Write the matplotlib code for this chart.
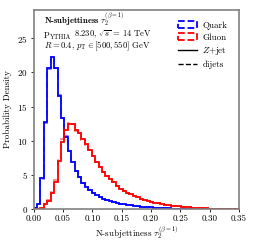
import numpy as np
import matplotlib.pyplot as plt
from matplotlib.patches import Patch
from matplotlib.lines import Line2D

plt.rcParams["font.family"] = "serif"
plt.rcParams["font.serif"] = ["cmr10", "DejaVu Serif"]
plt.rcParams["mathtext.fontset"] = "cm"
plt.rcParams["axes.formatter.use_mathtext"] = True
plt.rcParams["axes.unicode_minus"] = False

# 60 bins over [0, 0.35]
n_bins = 60
x_max = 0.35

quark_zjet = [0.1, 0.7, 4.5, 12.7, 20.6, 22.3, 20.6, 16.6, 13.3, 10.6,
              8.5, 6.9, 5.6, 4.7, 3.8, 3.3, 2.8, 2.4, 2.0, 1.75,
              1.5, 1.3, 1.15, 1.0, 0.88, 0.8, 0.7, 0.62, 0.55, 0.48,
              0.42, 0.37, 0.33, 0.29, 0.25, 0.21, 0.18, 0.15, 0.12, 0.1,
              0.08, 0.06, 0.05, 0.04, 0.03, 0.02, 0.02, 0.01, 0.01, 0.01,
              0.01, 0.01, 0.0, 0.0, 0.0, 0.0, 0.0, 0.0, 0.0, 0.0]
quark_dijet = [0.1, 0.7, 4.4, 12.6, 20.5, 22.3, 20.7, 16.7, 13.3, 10.7,
               8.5, 6.9, 5.6, 4.7, 3.8, 3.3, 2.8, 2.4, 2.0, 1.75,
               1.5, 1.3, 1.15, 1.0, 0.88, 0.8, 0.7, 0.62, 0.55, 0.48,
               0.42, 0.37, 0.33, 0.29, 0.25, 0.21, 0.18, 0.15, 0.12, 0.1,
               0.08, 0.06, 0.05, 0.04, 0.03, 0.02, 0.02, 0.01, 0.01, 0.01,
               0.01, 0.01, 0.0, 0.0, 0.0, 0.0, 0.0, 0.0, 0.0, 0.0]
gluon_zjet = [0.0, 0.05, 0.2, 0.7, 1.2, 2.4, 4.0, 7.1, 9.8, 11.6,
              12.4, 12.5, 11.6, 11.1, 10.2, 9.5, 8.6, 7.7, 6.9, 6.1,
              5.4, 4.9, 4.4, 3.9, 3.4, 3.0, 2.7, 2.4, 2.15, 1.9,
              1.75, 1.55, 1.35, 1.2, 1.05, 0.95, 0.85, 0.75, 0.67, 0.6,
              0.52, 0.45, 0.4, 0.35, 0.3, 0.26, 0.22, 0.18, 0.15, 0.12,
              0.1, 0.08, 0.06, 0.05, 0.04, 0.03, 0.02, 0.02, 0.01, 0.01]
gluon_dijet = [0.0, 0.05, 0.2, 0.7, 1.3, 2.5, 4.2, 7.4, 10.2, 11.9,
               12.6, 12.4, 11.5, 11.0, 10.1, 9.4, 8.6, 7.7, 6.9, 6.1,
               5.4, 4.9, 4.4, 3.9, 3.4, 3.0, 2.7, 2.4, 2.15, 1.9,
               1.75, 1.55, 1.35, 1.2, 1.05, 0.95, 0.85, 0.75, 0.67, 0.6,
               0.52, 0.45, 0.4, 0.35, 0.3, 0.26, 0.22, 0.18, 0.15, 0.12,
               0.1, 0.08, 0.06, 0.05, 0.04, 0.03, 0.02, 0.02, 0.01, 0.01]

edges = np.linspace(0, x_max, n_bins + 1)

fig = plt.figure(figsize=(2.54, 2.46), dpi=100)
ax = fig.add_axes([0.132, 0.150, 0.809, 0.811])

lw = 1.3
ax.stairs(quark_zjet, edges, color="blue", lw=lw)
ax.stairs(quark_dijet, edges, color="blue", lw=lw, ls="--", alpha=0.5)
ax.stairs(gluon_zjet, edges, color="red", lw=lw)
ax.stairs(gluon_dijet, edges, color="red", lw=lw, ls="--", alpha=0.5)

ax.set_xlim(0, x_max)
ax.set_ylim(0, 29.2)
xt = np.arange(0, 0.351, 0.05)
ax.set_xticks(xt)
ax.set_xticklabels([f"{v:.2f}" for v in xt])
ax.set_yticks([0, 5, 10, 15, 20, 25])
ax.tick_params(direction="out", length=2.5, width=0.6, labelsize=6.5, pad=1.5)
for s in ax.spines.values():
    s.set_color("#808080")
    s.set_linewidth(1.2)

ax.set_xlabel(r"N-subjettiness $\tau_2^{(\beta=1)}$", fontsize=6.5, labelpad=1)
ax.set_ylabel("Probability Density", fontsize=6.5, labelpad=4)

# annotation block
fs = 6.2
ax.text(0.05, 0.93, r"N-subjettiness $\tau_2^{(\beta=1)}$",
        transform=ax.transAxes, fontsize=fs, family="cmb10", va="baseline")
t1 = ax.text(0.05, 0.858, "P", transform=ax.transAxes, fontsize=fs,
             va="baseline")
t2 = ax.annotate("YTHIA", xy=(1, 0), xycoords=t1, fontsize=fs * 0.75,
                 va="bottom", ha="left")
ax.annotate(r"8.230, $\sqrt{s}$ = 14 TeV", xy=(1, 0), xycoords=t2,
            xytext=(2.5, 0), textcoords="offset points",
            fontsize=fs, va="bottom", ha="left")
ax.text(0.05, 0.806, r"$R = 0.4$, $p_{\mathrm{T}} \in [500, 550]$ GeV",
        transform=ax.transAxes, fontsize=fs, va="baseline")

# legend
handles = [
    Patch(facecolor="none", edgecolor="blue", ls="--", lw=1.3),
    Patch(facecolor="none", edgecolor="red", ls="--", lw=1.3),
    Line2D([], [], color="black", lw=1.0),
    Line2D([], [], color="black", lw=1.0, ls="--"),
]
labels = ["Quark", "Gluon", r"$Z$+jet", "dijets"]
ax.legend(handles, labels, loc="upper right", frameon=False, fontsize=6.5,
          handlelength=2.1, handleheight=0.8, handletextpad=0.6,
          labelspacing=0.38, borderaxespad=0.9, bbox_to_anchor=(1.0, 1.0))

fig.savefig("out.png", dpi=100)
